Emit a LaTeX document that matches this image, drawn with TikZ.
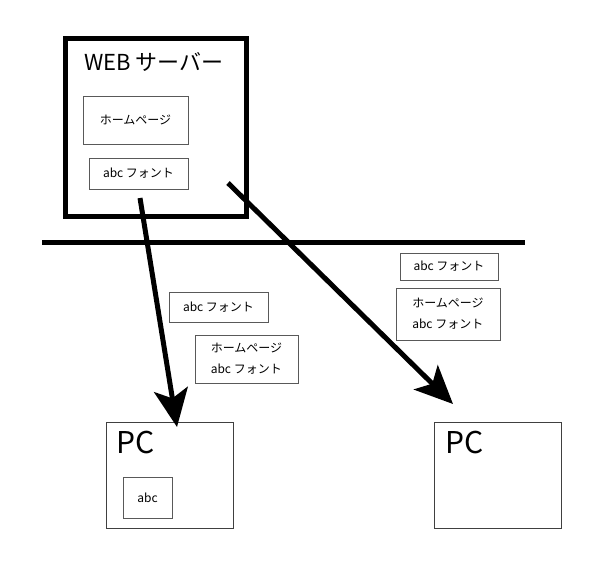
\documentclass[tikz,border=0pt]{standalone}
\usepackage{fontspec}
\setmainfont{Noto Sans CJK JP}
\usetikzlibrary{arrows.meta}
\begin{document}
\begin{tikzpicture}[
    x=1pt, y=-1pt,
    serverbox/.style={draw=black, line width=5pt, minimum width=181pt, minimum height=178pt, inner sep=0pt},
    filebox/.style={draw=black!65, line width=1pt, font=\fontsize{12}{21}\selectfont, inner sep=0pt},
    pcbox/.style={draw=black!75, line width=1pt, minimum width=127pt, minimum height=106pt, inner sep=0pt},
    title/.style={font=\fontsize{22}{24}\selectfont, anchor=base west, inner sep=0pt},
    pclabel/.style={font=\fontsize{30}{32}\selectfont, anchor=base west, inner sep=0pt},
    link/.style={line width=5pt, -{Stealth[length=38pt, width=34pt, inset=9pt]}},
    wire/.style={line width=5pt},
  ]

  % Web server holding the page and the font file.
  \node[serverbox] (server) at (155.5,127) {};
  \node[title] (server name) at (84,70) {WEB サーバー};
  \node[filebox, minimum width=105pt, minimum height=48pt] (page) at (135.5,120) {ホームページ};
  \node[filebox, minimum width=99pt, minimum height=31pt] (font) at (138.5,173.5) {abc フォント};

  % Network line.
  \coordinate (net west) at (42,242);
  \coordinate (net east) at (525,242);
  \draw[wire] (net west) -- (net east);

  % Data in transit.
  \node[filebox, minimum width=99pt, minimum height=30pt] (font a) at (218.5,307) {abc フォント};
  \node[filebox, minimum width=103pt, minimum height=48pt, align=left] (bundle a) at (246.5,359)
    {ホームページ\\abc フォント};
  \node[filebox, minimum width=98pt, minimum height=27pt] (font b) at (449,266.5) {abc フォント};
  \node[filebox, minimum width=104pt, minimum height=52pt, align=left] (bundle b) at (448,314)
    {ホームページ\\abc フォント};

  % Client PCs.
  \node[pcbox] (pc a) at (169.5,475) {};
  \node[pclabel] (pc a name) at (116,453) {PC};
  \node[filebox, minimum width=49pt, minimum height=41pt] (cache) at (147.5,497.5) {abc};
  \node[pcbox] (pc b) at (497.5,475) {};
  \node[pclabel] (pc b name) at (445,453) {PC};

  % Downloads.
  \coordinate (send a) at (140,198);
  \coordinate (recv a) at (177,427);
  \coordinate (send b) at (228,183);
  \coordinate (recv b) at (453,404);
  \draw[link] (send a) -- (recv a);
  \draw[link] (send b) -- (recv b);

  \path[use as bounding box] (0,0) rectangle (596,562);
\end{tikzpicture}
\end{document}
